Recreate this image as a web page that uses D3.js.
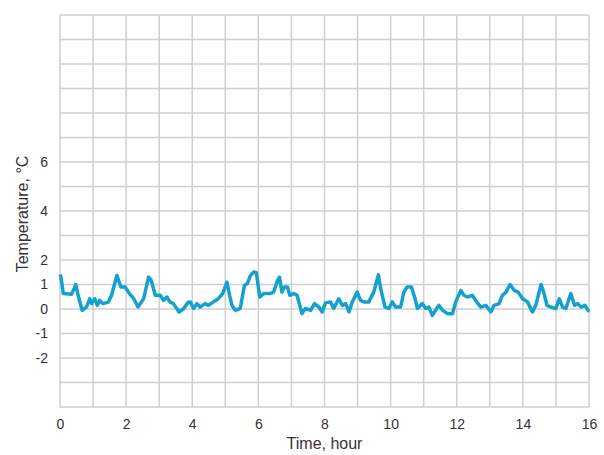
<!DOCTYPE html>
<html lang="en">
<head>
    <meta charset="utf-8">
    <title>Temperature over time</title>
    <style>
        body {
          margin:0;
          background:white;
          font-family: 'Liberation Sans', Arial, sans-serif;
        }
        .tick text {
          font-size:14px;
          fill:#333;
        }
        .axisTitle {
          font-size:16px;
          fill:#333;
        }
    </style>
</head>
<body>
    <div id="canvas"></div>
<script src="https://cdnjs.cloudflare.com/ajax/libs/d3/7.8.5/d3.min.js"></script>
<script>
    // hours and temperatures
    var hours = [0, 0.03, 0.1, 0.35, 0.48, 0.55, 0.67, 0.8, 0.9, 0.96, 1.05, 1.13, 1.2, 1.3, 1.46, 1.56, 1.72, 1.84, 1.97, 2.1, 2.23, 2.36, 2.46, 2.53, 2.68, 2.76, 2.88, 3.03, 3.13, 3.23, 3.33, 3.43, 3.6, 3.73, 3.88, 3.94,
                 4.04, 4.14, 4.24, 4.39, 4.49, 4.64, 4.79, 4.92, 5.05, 5.13, 5.2, 5.3, 5.45, 5.58, 5.67, 5.76, 5.86, 5.94, 6.04, 6.16, 6.36, 6.46, 6.58, 6.64, 6.71, 6.79, 6.88, 6.95, 7.07, 7.17, 7.32, 7.42, 7.58, 7.7, 7.83, 7.93,
                 8.03, 8.18, 8.28, 8.43, 8.54, 8.64, 8.74, 8.84, 8.99, 9.09, 9.19, 9.34, 9.49, 9.63, 9.7, 9.83, 9.95, 10.05, 10.15, 10.3, 10.4, 10.5, 10.63, 10.74, 10.81, 10.96, 11.06, 11.16, 11.26, 11.36, 11.46, 11.57, 11.72, 11.87, 11.97,
                 12.12, 12.22, 12.32, 12.47, 12.6, 12.73, 12.88, 13.03, 13.13, 13.28, 13.38, 13.49, 13.61, 13.74, 13.86, 13.99, 14.14, 14.29, 14.39, 14.55, 14.63, 14.73, 14.85, 15.0, 15.1, 15.2, 15.3, 15.45, 15.56, 15.66, 15.76, 15.88, 16.0];
    var temps = [1.4, 1.3, 0.63, 0.6, 1.0, 0.55, -0.05, 0.08, 0.42, 0.22, 0.42, 0.15, 0.35, 0.22, 0.28, 0.56, 1.37, 0.9, 0.9, 0.63, 0.42, 0.08, 0.28, 0.42, 1.3, 1.17, 0.56, 0.56, 0.35, 0.49, 0.28, 0.22, -0.12, 0.0, 0.28, 0.29,
                 0.02, 0.22, 0.08, 0.22, 0.15, 0.29, 0.42, 0.63, 1.1, 0.56, 0.15, -0.05, 0.02, 0.97, 1.04, 1.37, 1.51, 1.48, 0.49, 0.63, 0.63, 0.69, 1.17, 1.3, 0.69, 0.9, 0.9, 0.56, 0.63, 0.56, -0.19, 0.02, -0.05, 0.22, 0.08, -0.12,
                 0.25, 0.29, 0.02, 0.42, 0.15, 0.22, -0.12, 0.29, 0.69, 0.35, 0.29, 0.29, 0.69, 1.4, 0.83, 0.08, 0.02, 0.29, 0.08, 0.08, 0.69, 0.9, 0.9, 0.42, 0.02, 0.22, 0.02, 0.08, -0.26, -0.05, 0.15, -0.05, -0.19, -0.19, 0.29,
                 0.75, 0.56, 0.49, 0.56, 0.29, 0.08, 0.15, -0.12, 0.15, 0.22, 0.56, 0.69, 1.0, 0.76, 0.69, 0.42, 0.29, -0.12, 0.15, 1.0, 0.69, 0.15, 0.08, 0.02, 0.42, 0.08, 0.02, 0.63, 0.15, 0.22, 0.08, 0.15, -0.12];

    var xTicks = [0, 2, 4, 6, 8, 10, 12, 14, 16],
        yTicks = [-2, -1, 0, 1, 2, 4, 6];

    var margin = {top:15, right:15, bottom:48, left:60},
        width = 604 - margin.left - margin.right,
        height = 455 - margin.top - margin.bottom;

    var x = d3.scaleLinear().domain([0, 16]).range([0, width]),
        y = d3.scaleLinear().domain([-4, 12]).range([height, 0]);

    var svg = d3.select("#canvas").append("svg")
        .attr("width", width + margin.left + margin.right)
        .attr("height", height + margin.top + margin.bottom)
      .append("g")
        .attr("transform", "translate(" + margin.left + "," + margin.top + ")");

    //Grid, one line per hour and per degree
    svg.append("g")
        .selectAll("line")
        .data(d3.range(0, 17))
      .enter().append("line")
        .attr("x1", function(d) { return x(d); })
        .attr("x2", function(d) { return x(d); })
        .attr("y1", 0)
        .attr("y2", height)
        .attr("stroke", "#cfcfcf")
        .attr("stroke-width", 1.5);

    svg.append("g")
        .selectAll("line")
        .data(d3.range(-4, 13))
      .enter().append("line")
        .attr("x1", 0)
        .attr("x2", width)
        .attr("y1", function(d) { return y(d); })
        .attr("y2", function(d) { return y(d); })
        .attr("stroke", "#cfcfcf")
        .attr("stroke-width", 1.5);

    //Axes, labels only (plain hyphen for negatives like the original)
    svg.append("g")
        .attr("transform", "translate(0," + height + ")")
        .call(d3.axisBottom(x).tickValues(xTicks).tickFormat(String).tickSize(0).tickPadding(12))
        .call(function(g) { g.select(".domain").remove(); });

    svg.append("g")
        .call(d3.axisLeft(y).tickValues(yTicks).tickFormat(String).tickSize(0).tickPadding(12))
        .call(function(g) { g.select(".domain").remove(); });

    //Temperature line
    var data = hours.map(function(h, i) { return {h:h, t:temps[i]}; });

    svg.append("path")
        .datum(data)
        .attr("fill", "none")
        .attr("stroke", "#14a0d0")
        .attr("stroke-width", 3.5)
        .attr("stroke-linejoin", "round")
        .attr("d", d3.line()
          .x(function(d) { return x(d.h); })
          .y(function(d) { return y(d.t); }));

    //Titles
    svg.append("text")
        .attr("class", "axisTitle")
        .attr("x", width/2)
        .attr("y", height + 42)
        .style("text-anchor", "middle")
        .text("Time, hour");

    svg.append("text")
        .attr("class", "axisTitle")
        .attr("transform", "rotate(-90)")
        .attr("x", 0 - 199)
        .attr("y", 0 - 32)
        .style("text-anchor", "middle")
        .text("Temperature, °C");
</script>
</body>
</html>
